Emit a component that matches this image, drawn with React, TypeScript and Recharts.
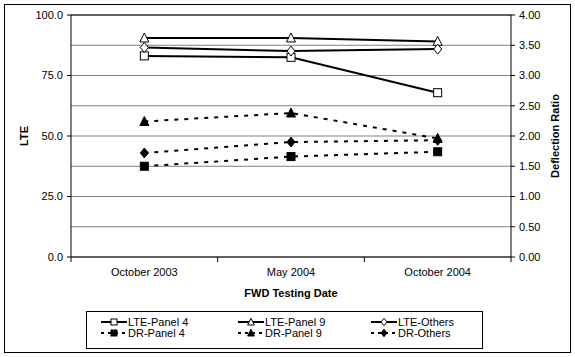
import React from "react";
import {
  LineChart,
  Line,
  XAxis,
  YAxis,
  CartesianGrid,
  ReferenceLine,
  Legend,
} from "recharts";

const categories = ["October 2003", "May 2004", "October 2004"];
const ltePanel4 = [83.1, 82.5, 67.9];
const ltePanel9 = [90.5, 90.5, 89.1];
const lteOthers = [86.6, 85.1, 85.9];
const drPanel4 = [1.5, 1.66, 1.74];
const drPanel9 = [2.24, 2.38, 1.96];
const drOthers = [1.72, 1.9, 1.93];

const lteTicks = [0, 25, 50, 75, 100];
const drTicks = [0, 0.5, 1, 1.5, 2, 2.5, 3, 3.5, 4];

const FONT = "'Liberation Sans', Arial, sans-serif";

// x is the category centre on a 0..n numeric axis, so ticks can sit between bands
const data = categories.map((c, i) => ({
  x: i + 0.5,
  name: c,
  lteP4: ltePanel4[i],
  lteP9: ltePanel9[i],
  lteO: lteOthers[i],
  drP4: drPanel4[i],
  drP9: drPanel9[i],
  drO: drOthers[i],
}));

const xTicks: number[] = [];
for (let i = 0; i <= categories.length * 2; i++) xTicks.push(i / 2);

type Shape = "square" | "triangle" | "diamond";

function Marker({ cx, cy, shape, filled, s = 1 }: { cx: number; cy: number; shape: Shape; filled: boolean; s?: number }) {
  const fill = filled ? "#000" : "#fff";
  if (shape === "square")
    return <rect x={cx - 4 * s} y={cy - 4 * s} width={8 * s} height={8 * s} fill={fill} stroke="#000" strokeWidth={1} />;
  if (shape === "triangle")
    return (
      <polygon
        points={`${cx},${cy - 5 * s} ${cx + 4.5 * s},${cy + 4 * s} ${cx - 4.5 * s},${cy + 4 * s}`}
        fill={fill}
        stroke="#000"
        strokeWidth={1}
      />
    );
  return (
    <polygon
      points={`${cx},${cy - 5 * s} ${cx + 4 * s},${cy} ${cx},${cy + 5 * s} ${cx - 4 * s},${cy}`}
      fill={fill}
      stroke="#000"
      strokeWidth={1}
    />
  );
}

const makeDot = (shape: Shape, filled: boolean) => (p: any) =>
  <Marker key={`${shape}-${filled}-${p.index}`} cx={p.cx} cy={p.cy} shape={shape} filled={filled} />;

const series = [
  { key: "lteP4", name: "LTE-Panel 4", axis: "left", shape: "square" as Shape, filled: false, dashed: false },
  { key: "lteP9", name: "LTE-Panel 9", axis: "left", shape: "triangle" as Shape, filled: false, dashed: false },
  { key: "lteO", name: "LTE-Others", axis: "left", shape: "diamond" as Shape, filled: false, dashed: false },
  { key: "drP4", name: "DR-Panel 4", axis: "right", shape: "square" as Shape, filled: true, dashed: true },
  { key: "drP9", name: "DR-Panel 9", axis: "right", shape: "triangle" as Shape, filled: true, dashed: true },
  { key: "drO", name: "DR-Others", axis: "right", shape: "diamond" as Shape, filled: true, dashed: true },
];

function XTick(props: any) {
  const { x, y, payload } = props;
  const v = payload.value as number;
  if (Number.isInteger(v)) {
    return <line x1={x} x2={x} y1={y - 6} y2={y - 1} stroke="#000" strokeWidth={1} />;
  }
  const label = categories[Math.floor(v)];
  return (
    <text x={x} y={y + 13} textAnchor="middle" fontSize={11} fontFamily={FONT} fill="#000">
      {label}
    </text>
  );
}

function LegendBox() {
  const cols = [14, 151, 284];
  return (
    <div
      style={{
        position: "relative",
        width: 395,
        height: 36,
        border: "1px solid #000",
        background: "#fff",
        fontFamily: FONT,
        fontSize: 11,
        color: "#000",
      }}
    >
      {series.map((s, i) => {
        const col = i % 3;
        const row = Math.floor(i / 3);
        return (
          <div
            key={s.key}
            style={{
              position: "absolute",
              left: cols[col],
              top: row === 0 ? 3 : 14,
              height: 13,
              display: "flex",
              alignItems: "center",
              whiteSpace: "nowrap",
            }}
          >
            <svg width={26} height={10}>
              <line
                x1={0}
                x2={26}
                y1={5}
                y2={5}
                stroke="#000"
                strokeWidth={2}
                strokeDasharray={s.dashed ? "3 4" : undefined}
              />
              <Marker cx={13} cy={5} shape={s.shape} filled={s.filled} s={0.75} />
            </svg>
            <span style={{ marginLeft: 1 }}>{s.name}</span>
          </div>
        );
      })}
    </div>
  );
}

const titleStyle = { fontFamily: FONT, fontSize: 11, fontWeight: "bold", fill: "#000" };

export default function App() {
  return (
    <div style={{ position: "absolute", left: 0, top: 0, width: 575, height: 357, background: "#fff" }}>
      <div
        style={{
          position: "absolute",
          left: 4,
          top: 4,
          width: 565,
          height: 347,
          border: "1px solid #000",
        }}
      />
      <LineChart
        width={575}
        height={357}
        data={data}
        margin={{ top: 15, right: 14, bottom: 17, left: 5 }}
      >
        <CartesianGrid horizontal vertical={false} yAxisId="right" stroke="#808080" strokeWidth={1} />
        <XAxis
          type="number"
          dataKey="x"
          domain={[0, categories.length]}
          ticks={xTicks}
          interval={0}
          tickLine={false}
          tickSize={6}
          tickMargin={0}
          tick={<XTick />}
          height={45}
          axisLine={{ stroke: "#000", strokeWidth: 1 }}
          label={{
            value: "FWD Testing Date",
            position: "insideBottom",
            offset: 5,
            fill: "#000",
            style: titleStyle,
          }}
        />
        <YAxis
          yAxisId="left"
          domain={[0, 100]}
          ticks={lteTicks}
          interval={0}
          width={66}
          tickSize={4}
          tickMargin={4}
          tickFormatter={(v: number) => v.toFixed(1)}
          tick={{ fontSize: 11, fontFamily: FONT, fill: "#000" }}
          axisLine={{ stroke: "#000" }}
          tickLine={{ stroke: "#000" }}
          label={{
            value: "LTE",
            angle: -90,
            position: "insideLeft",
            offset: 19,
            fill: "#000",
            style: { ...titleStyle, textAnchor: "middle" },
          }}
        />
        <YAxis
          yAxisId="right"
          orientation="right"
          domain={[0, 4]}
          ticks={drTicks}
          interval={0}
          width={50}
          tickSize={4}
          tickMargin={4}
          tickFormatter={(v: number) => v.toFixed(2)}
          tick={{ fontSize: 11, fontFamily: FONT, fill: "#000" }}
          axisLine={{ stroke: "#000" }}
          tickLine={{ stroke: "#000" }}
          label={{
            value: "Deflection Ratio",
            angle: -90,
            position: "insideRight",
            offset: 6,
            fill: "#000",
            style: { ...titleStyle, textAnchor: "middle" },
          }}
        />
        <ReferenceLine yAxisId="left" y={100} stroke="#000" strokeWidth={1} />
        <Legend
          verticalAlign="bottom"
          content={() => <LegendBox />}
          wrapperStyle={{ left: 86, bottom: 8, width: 397 }}
        />
        {series.map((s) => (
          <Line
            key={s.key}
            name={s.name}
            yAxisId={s.axis}
            type="linear"
            dataKey={s.key}
            stroke="#000"
            strokeWidth={2}
            strokeDasharray={s.dashed ? "4 6" : undefined}
            dot={makeDot(s.shape, s.filled)}
            activeDot={false}
            isAnimationActive={false}
          />
        ))}
      </LineChart>
    </div>
  );
}
